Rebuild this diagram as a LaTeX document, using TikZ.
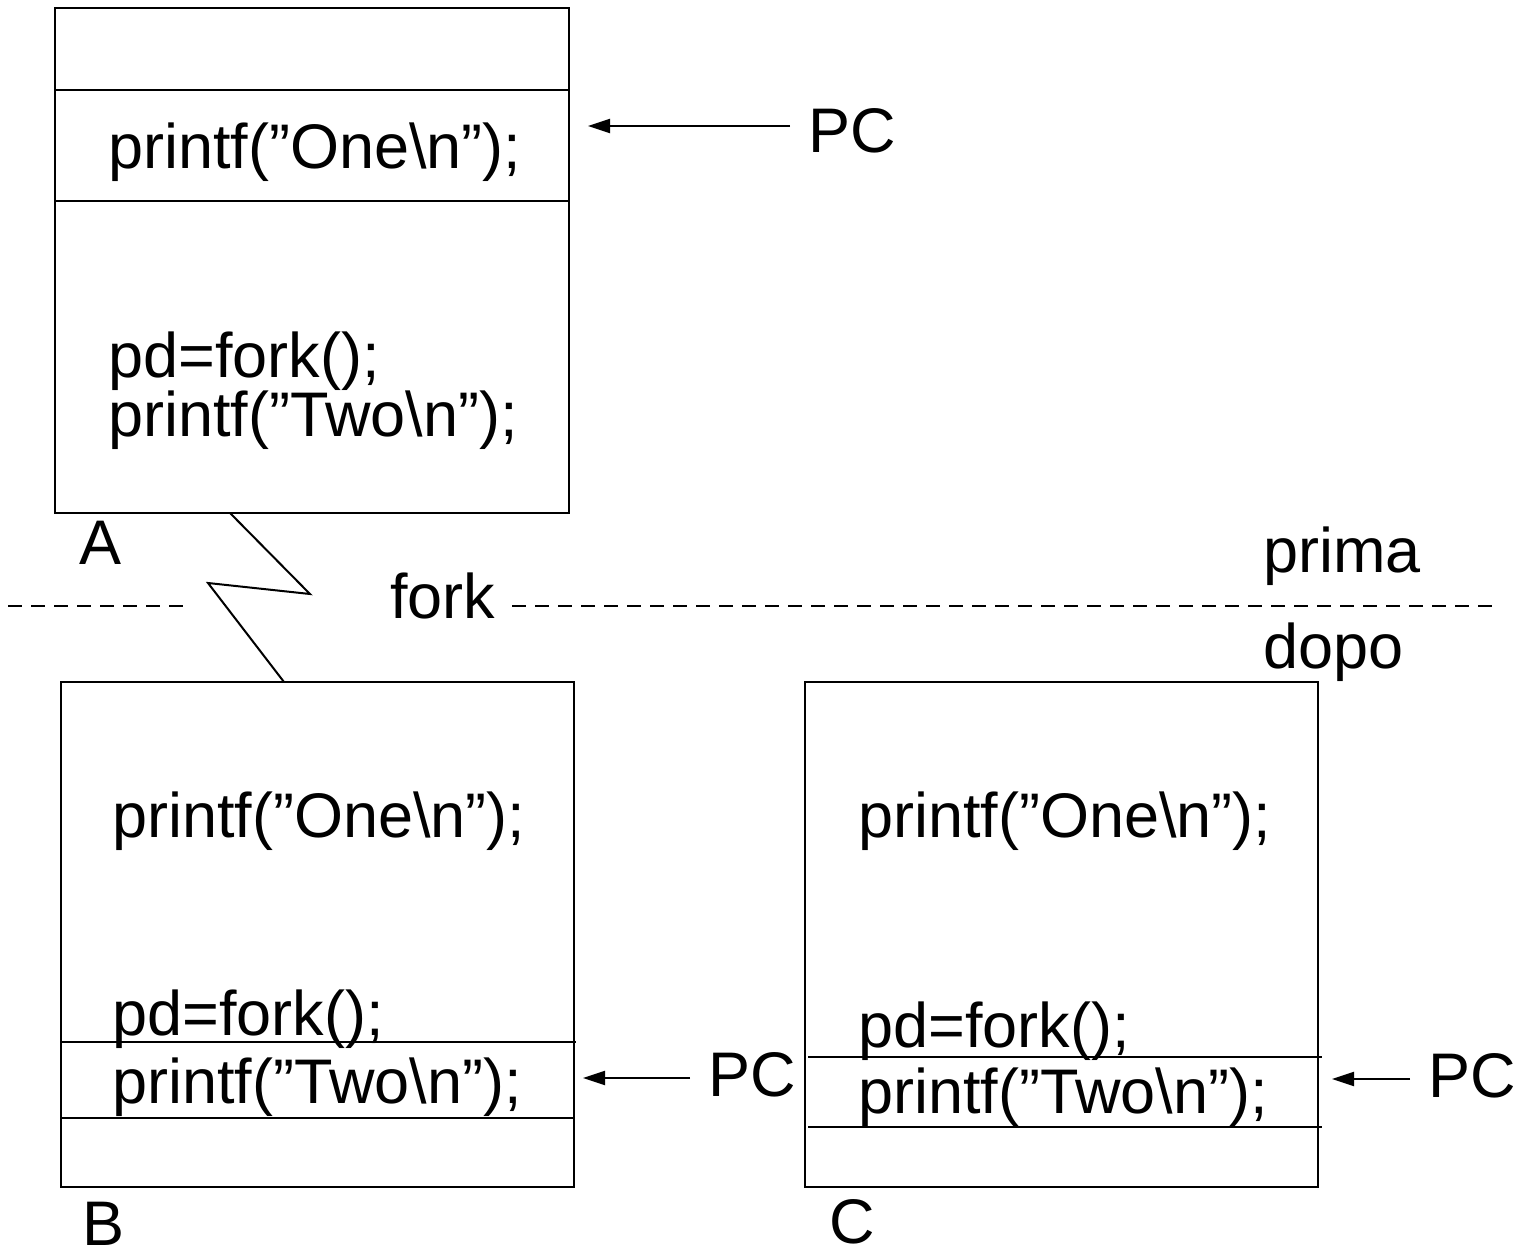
\documentclass[tikz,border=0pt]{standalone}
\usepackage{fontspec}
\setmainfont{Liberation Sans}
\usetikzlibrary{arrows.meta}
\begin{document}
\begin{tikzpicture}[x=1pt,y=-1pt,
  box/.style={draw,line width=2.5pt,rectangle,inner sep=0pt,outer sep=0pt},
  txt/.style={anchor=base west,inner sep=0pt,font=\fontsize{63}{68}\selectfont},
  pclbl/.style={anchor=base west,inner xsep=18pt,inner ysep=0pt,font=\fontsize{63}{68}\selectfont},
  sep/.style={line width=2.5pt},
  arr/.style={line width=2pt,-{Triangle[length=22pt,width=14pt]}},
  zig/.style={line width=2pt},
  divider/.style={line width=2pt,dash pattern=on 14pt off 9pt}]
\useasboundingbox (0,0) rectangle (1517,1255);
% Box A
\node[box,minimum width=514pt,minimum height=505pt] (A) at (312,260.5) {};
\draw[sep] (55,90) -- (569,90);
\draw[sep] (55,201) -- (569,201);
\node[txt] (a1) at (108,168) {printf(”One\textbackslash n”);};
\node[txt] (a2) at (108,377) {pd=fork();};
\node[txt] (a3) at (108,436) {printf(”Two\textbackslash n”);};
\node[txt] (la) at (79,564) {A};
\coordinate (tA) at (588,126);
\node[pclbl] (pcA) at (790,152) {PC};
\draw[arr] (pcA.base west |- tA) -- (tA);
% divider
\draw[divider] (8,606) -- (188,606);
\draw[divider] (512,606) -- (1492,606);
\node[txt] (fork) at (390,618) {fork};
\node[txt] (prima) at (1263,572) {prima};
\node[txt] (dopo) at (1263,668) {dopo};
% Box B
\node[box,minimum width=513pt,minimum height=505pt] (B) at (317.5,934.5) {};
\draw[sep] (61,1042) -- (576,1042);
\draw[sep] (61,1118) -- (574,1118);
\node[txt] (b1) at (112,837) {printf(”One\textbackslash n”);};
\node[txt] (b2) at (112,1035) {pd=fork();};
\node[txt] (b3) at (112,1103) {printf(”Two\textbackslash n”);};
\node[txt] (lb) at (82,1245) {B};
\coordinate (tB) at (583,1078);
\node[pclbl] (pcB) at (690,1096) {PC};
\draw[arr] (pcB.base west |- tB) -- (tB);
% Box C
\node[box,minimum width=513pt,minimum height=505pt] (C) at (1061.5,934.5) {};
\draw[sep] (808,1057) -- (1322,1057);
\draw[sep] (808,1127) -- (1322,1127);
\node[txt] (c1) at (858,837) {printf(”One\textbackslash n”);};
\node[txt] (c2) at (858,1047) {pd=fork();};
\node[txt] (c3) at (858,1113) {printf(”Two\textbackslash n”);};
\node[txt] (lc) at (829,1243) {C};
\coordinate (tC) at (1332,1079);
\node[pclbl] (pcC) at (1410,1097) {PC};
\draw[arr] (pcC.base west |- tC) -- (tC);
% zigzag from A to B
\coordinate (zA) at (230,513);
\coordinate (zB) at (284,682);
\draw[zig] (zA) -- (310,594) -- (208,583) -- (zB);
\end{tikzpicture}
\end{document}
